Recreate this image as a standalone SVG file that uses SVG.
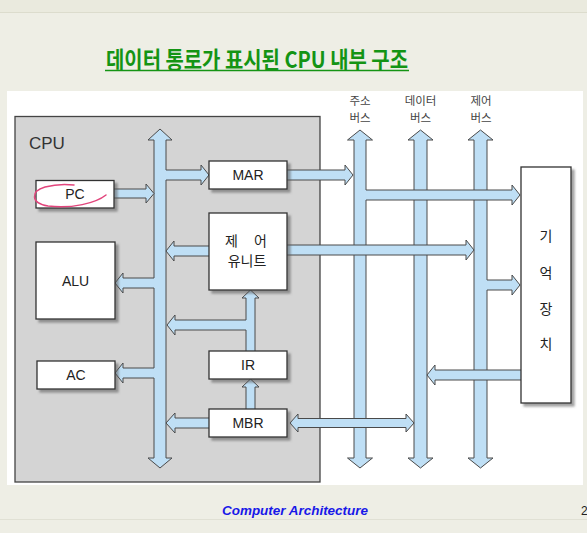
<svg xmlns="http://www.w3.org/2000/svg" width="587" height="533" viewBox="0 0 587 533">
<style>
.arr{fill:#bfdff5;stroke:#4a4a4a;stroke-width:1;stroke-linejoin:miter}
.box{fill:#ffffff;stroke:#333333;stroke-width:1.3;filter:url(#sh)}
.lbl{font-family:"Liberation Sans",Arial,sans-serif;font-size:14px;fill:#222;text-anchor:middle}
.kr{font-family:"Noto Sans CJK KR","Noto Sans",sans-serif;font-size:14px;fill:#222;text-anchor:middle}
.bus{font-family:"Noto Sans CJK KR","Noto Sans",sans-serif;font-size:11.5px;fill:#444;text-anchor:middle}
</style>
<defs>
<filter id="sh" x="-20%" y="-20%" width="140%" height="140%">
<feDropShadow dx="3" dy="3" stdDeviation="0.8" flood-color="#555" flood-opacity="0.55"/>
</filter>
</defs>
<rect x="0" y="0" width="587" height="533" fill="#eeeee5"/>
<rect x="0" y="0" width="587" height="12" fill="#eaeade"/>
<line x1="0" y1="12.5" x2="587" y2="12.5" stroke="#dcdccd" stroke-width="1"/>
<line x1="0" y1="519.5" x2="587" y2="519.5" stroke="#e0e0d4" stroke-width="1"/>
<g id="title">
<text x="257" y="67.5" font-family="Noto Sans CJK KR,sans-serif" font-weight="bold" font-size="23" fill="#149414" text-anchor="middle" textLength="302" lengthAdjust="spacingAndGlyphs">데이터 통로가 표시된 CPU 내부 구조</text>
<line x1="105" y1="70.5" x2="409" y2="70.5" stroke="#149414" stroke-width="1.6"/>
</g>
<rect x="7" y="91" width="576" height="394" fill="#ffffff"/>
<g id="cpu">
<rect x="15" y="116.5" width="305" height="365.5" fill="#d4d4d4" stroke="#444" stroke-width="1.3"/>
<text x="29" y="149" font-family="Liberation Sans,Arial,sans-serif" font-size="17" fill="#333">CPU</text>
</g>
<g id="connectors">
<path class="arr" d="M160,129 L172,140 L166,140 L166,170 L201,170 L201,165 L209,175 L201,185 L201,180 L166,180 L166,458 L172,458 L160,468 L148,458 L154,458 L154,378 L123,378 L123,383 L115,373 L123,363 L123,368 L154,368 L154,288 L123,288 L123,293 L115,283 L123,273 L123,278 L154,278 L154,140 L148,140 Z"/>
<path class="arr" d="M112,189 L146,189 L146,184 L154,193.5 L146,203 L146,198 L112,198 Z"/>
<path class="arr" d="M211,246 L174,246 L174,241 L166,251 L174,261 L174,256 L211,256 Z"/>
<path class="arr" d="M250.5,290 L259,298 L255,298 L255,353 L246,353 L246,330 L175,330 L175,335 L167,325 L175,315 L175,320 L246,320 L246,298 L242,298 Z"/>
<path class="arr" d="M250.5,379 L259,387 L255,387 L255,411 L246,411 L246,387 L242,387 Z"/>
<path class="arr" d="M211,418 L175,418 L175,413 L166,423 L175,433 L175,428 L211,428 Z"/>
<path class="arr" d="M420.5,130 L433,140 L427,140 L427,458 L433,458 L420.5,468 L408,458 L414,458 L414,140 L408,140 Z"/>
<path class="arr" d="M480.5,130 L493,140 L487,140 L487,280 L512,280 L512,275 L520,285 L512,295 L512,290 L487,290 L487,458 L493,458 L480.5,468 L468,458 L474,458 L474,140 L468,140 Z"/>
<path class="arr" d="M360,130 L372.5,140 L366,140 L366,190 L512,190 L512,185 L520,195 L512,205 L512,200 L366,200 L366,458 L372.5,458 L360,468 L347.5,458 L354,458 L354,140 L347.5,140 Z"/>
<path class="arr" d="M285,170 L345,170 L345,165 L353,175 L345,185 L345,180 L285,180 Z"/>
<path class="arr" d="M285,245 L466,245 L466,240 L474,250 L466,260 L466,255 L285,255 Z"/>
<path class="arr" d="M523,370 L435,370 L435,365 L427,375 L435,385 L435,380 L523,380 Z"/>
<path class="arr" d="M290,423 L298,414 L298,418.5 L406,418.5 L406,414 L414,423 L406,432 L406,427.5 L298,427.5 L298,432 Z"/>
</g>
<g id="pc">
<rect class="box" x="36" y="180.5" width="78" height="27.5"/>
<text class="lbl" x="75" y="199">PC</text>
</g>
<g id="alu">
<rect class="box" x="36" y="242" width="79" height="77"/>
<text class="lbl" x="75.5" y="286">ALU</text>
</g>
<g id="ac">
<rect class="box" x="37" y="361" width="78" height="28"/>
<text class="lbl" x="76" y="380">AC</text>
</g>
<g id="mar">
<rect class="box" x="209" y="161" width="78" height="28"/>
<text class="lbl" x="248" y="180">MAR</text>
</g>
<g id="control-unit">
<rect class="box" x="209" y="213" width="78" height="77"/>
<text class="kr" x="231.5" y="245.5">제</text>
<text class="kr" x="260.5" y="245.5">어</text>
<text class="kr" x="247" y="266">유니트</text>
</g>
<g id="ir">
<rect class="box" x="209" y="351" width="78" height="28"/>
<text class="lbl" x="248" y="370">IR</text>
</g>
<g id="mbr">
<rect class="box" x="209" y="409" width="78" height="28"/>
<text class="lbl" x="248" y="428">MBR</text>
</g>
<g id="memory">
<rect class="box" x="521" y="167" width="50" height="236"/>
<text class="kr" x="546" y="241">기</text>
<text class="kr" x="546" y="278">억</text>
<text class="kr" x="546" y="314">장</text>
<text class="kr" x="546" y="349">치</text>
</g>
<g id="bus-labels">
<text class="bus" x="360" y="105">주소</text>
<text class="bus" x="360" y="122">버스</text>
<text class="bus" x="420.5" y="105">데이터</text>
<text class="bus" x="420.5" y="122">버스</text>
<text class="bus" x="481" y="105">제어</text>
<text class="bus" x="481" y="122">버스</text>
</g>
<path d="M106,195 C96,203 72,209 48,206 C30,203 31,191 45,187 C56,184 66,184 74,185" fill="none" stroke="#e2457c" stroke-width="1.5" stroke-linecap="round"/>
<text x="222" y="515" font-family="Liberation Sans,Arial,sans-serif" font-style="italic" font-weight="bold" font-size="13" fill="#1818e8" textLength="146" lengthAdjust="spacingAndGlyphs">Computer Architecture</text>
<text x="581" y="515" font-family="Liberation Sans,Arial,sans-serif" font-size="12" fill="#222">2</text>
</svg>
